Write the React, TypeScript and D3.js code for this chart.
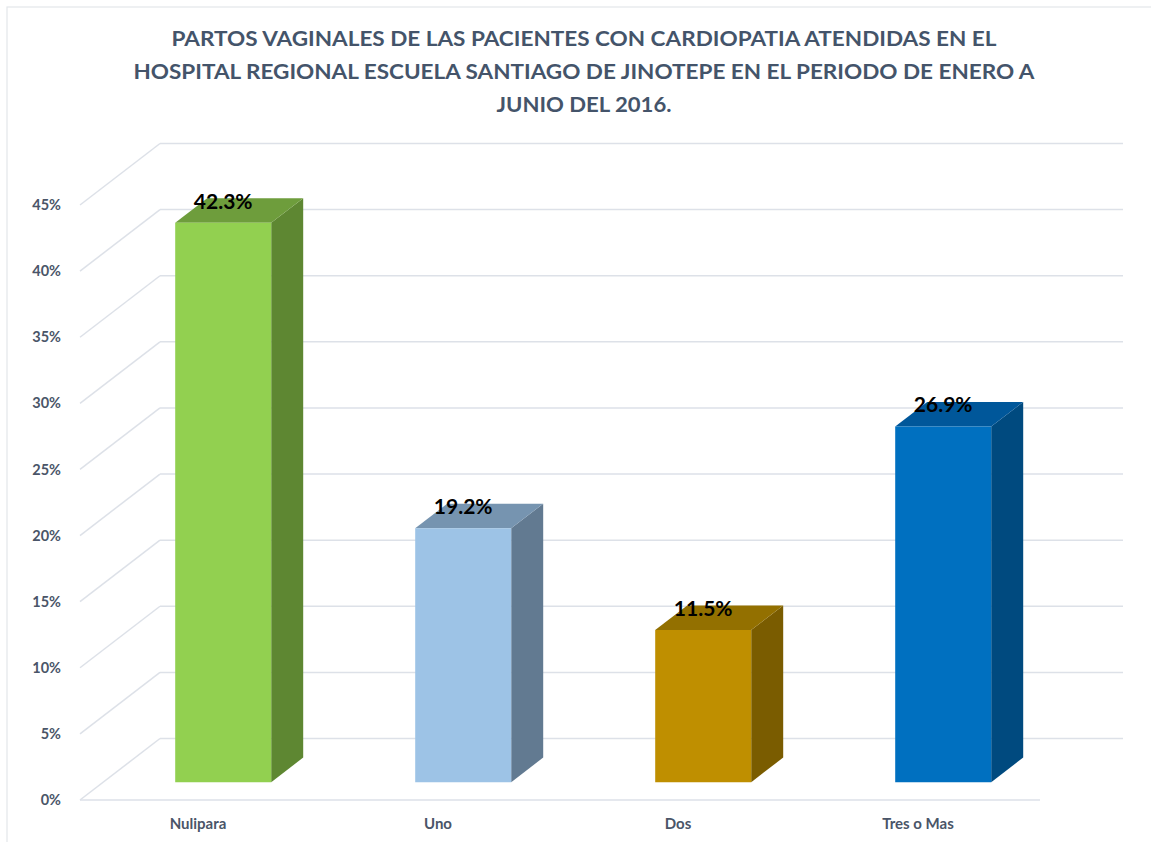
import * as React from "react";
import * as d3 from "d3";

const categories = ["Nulipara", "Uno", "Dos", "Tres o Mas"];
const values = [42.3, 19.2, 11.5, 26.9];
const yTicks = [0, 5, 10, 15, 20, 25, 30, 35, 40, 45];
const titleLines = [
  "PARTOS VAGINALES DE LAS PACIENTES CON CARDIOPATIA ATENDIDAS EN EL",
  "HOSPITAL REGIONAL ESCUELA SANTIAGO DE JINOTEPE EN EL PERIODO DE ENERO A",
  "JUNIO DEL 2016.",
];
const frontColors = ["#92D050", "#9DC3E6", "#BF8F00", "#0070C0"];
const sideColors = ["#5E8732", "#627A91", "#7A5C00", "#004A7F"];
const topColors = ["#6E9D3C", "#7694B0", "#937000", "#00579A"];

function drawChart(svgRef: React.RefObject<SVGSVGElement>) {
  const w = 1151;
  const h = 842;
  const svg = d3.select(svgRef.current);
  svg.selectAll("*").remove();
  svg.attr("width", w).attr("height", h);

  // chart border
  svg
    .append("rect")
    .attr("x", 7)
    .attr("y", 7)
    .attr("width", 1160)
    .attr("height", 860)
    .attr("fill", "#fff")
    .attr("stroke", "#E3E6EA")
    .attr("stroke-width", 1.2);

  // front plane scales, depth moves things right and up
  const x = d3
    .scaleBand()
    .domain(categories)
    .range([80, 1040])
    .paddingInner(0.6)
    .paddingOuter(0.3);
  const y = d3.scaleLinear().domain([0, 45]).range([800, 205]);
  const depthX = 80;
  const depthY = -61.5;
  const p = (px: number, v: number, z: number): [number, number] => [
    px + depthX * z,
    y(v) + depthY * z,
  ];

  const grid = svg.append("g").attr("stroke", "#DDE1E8").attr("stroke-width", 1.5).attr("fill", "none");
  // side wall diagonals
  grid
    .selectAll(".diag")
    .data(yTicks)
    .join("line")
    .attr("x1", 80)
    .attr("y1", (d) => p(80, d, 0)[1])
    .attr("x2", (d) => p(80, d, 1)[0])
    .attr("y2", (d) => p(80, d, 1)[1]);
  // back wall lines
  grid
    .selectAll(".back")
    .data(yTicks)
    .join("line")
    .attr("x1", (d) => p(80, d, 1)[0])
    .attr("y1", (d) => p(80, d, 1)[1])
    .attr("x2", 1123)
    .attr("y2", (d) => p(80, d, 1)[1]);
  // floor front edge
  grid.append("line").attr("x1", 80).attr("y1", y(0)).attr("x2", 1040).attr("y2", y(0));

  // y axis labels
  svg
    .append("g")
    .selectAll("text")
    .data(yTicks)
    .join("text")
    .attr("x", 61)
    .attr("y", (d) => y(d))
    .attr("dy", "0.35em")
    .attr("text-anchor", "end")
    .attr("font-family", "Lato, sans-serif")
    .attr("font-weight", "bold")
    .attr("font-size", 14.5)
    .attr("fill", "#4A5568")
    .text((d) => d + "%");

  // bars
  const z0 = 0.29;
  const z1 = 0.69;
  const bw = x.bandwidth();
  const bars = svg
    .append("g")
    .selectAll("g")
    .data(values)
    .join("g");

  const poly = (pts: [number, number][]) => pts.map((q) => q.join(",")).join(" ");

  bars
    .append("polygon")
    .attr("fill", (d, i) => sideColors[i])
    .attr("points", (d, i) => {
      const x0 = x(categories[i])! + bw;
      return poly([p(x0, 0, z0), p(x0, 0, z1), p(x0, d, z1), p(x0, d, z0)]);
    });
  bars
    .append("polygon")
    .attr("fill", (d, i) => topColors[i])
    .attr("points", (d, i) => {
      const x0 = x(categories[i])!;
      return poly([p(x0, d, z0), p(x0, d, z1), p(x0 + bw, d, z1), p(x0 + bw, d, z0)]);
    });
  bars
    .append("polygon")
    .attr("fill", (d, i) => frontColors[i])
    .attr("points", (d, i) => {
      const x0 = x(categories[i])!;
      return poly([p(x0, 0, z0), p(x0 + bw, 0, z0), p(x0 + bw, d, z0), p(x0, d, z0)]);
    });

  // data labels
  bars
    .append("text")
    .attr("x", (d, i) => p(x(categories[i])! + bw / 2, d, z0)[0])
    .attr("y", (d) => p(0, d, z0)[1] - 14)
    .attr("text-anchor", "middle")
    .attr("font-family", "Lato, sans-serif")
    .attr("font-weight", "bold")
    .attr("font-size", 21)
    .attr("fill", "#000")
    .text((d) => d.toFixed(1) + "%");

  // category labels
  svg
    .append("g")
    .selectAll("text")
    .data(categories)
    .join("text")
    .attr("x", (d) => x(d)! + bw / 2 - 2)
    .attr("y", 829)
    .attr("text-anchor", "middle")
    .attr("font-family", "Lato, sans-serif")
    .attr("font-weight", "bold")
    .attr("font-size", 15)
    .attr("fill", "#4A5568")
    .text((d) => d);

  // title
  const titleWidths = [825, 901, 175];
  svg
    .append("g")
    .selectAll("text")
    .data(titleLines)
    .join("text")
    .attr("x", 584)
    .attr("y", (d, i) => 46 + i * 33)
    .attr("text-anchor", "middle")
    .attr("font-family", "Lato, sans-serif")
    .attr("font-weight", "bold")
    .attr("font-size", 20)
    .attr("fill", "#44546A")
    .attr("textLength", (d, i) => titleWidths[i])
    .attr("lengthAdjust", "spacingAndGlyphs")
    .text((d) => d);
}

const Chart: React.FunctionComponent = () => {
  const svg = React.useRef<SVGSVGElement>(null);
  React.useEffect(() => {
    drawChart(svg);
  }, [svg]);

  return (
    <div id="chart" style={{ position: "absolute", left: 0, top: 0 }}>
      <svg ref={svg} style={{ display: "block" }} />
    </div>
  );
};

export default Chart;
